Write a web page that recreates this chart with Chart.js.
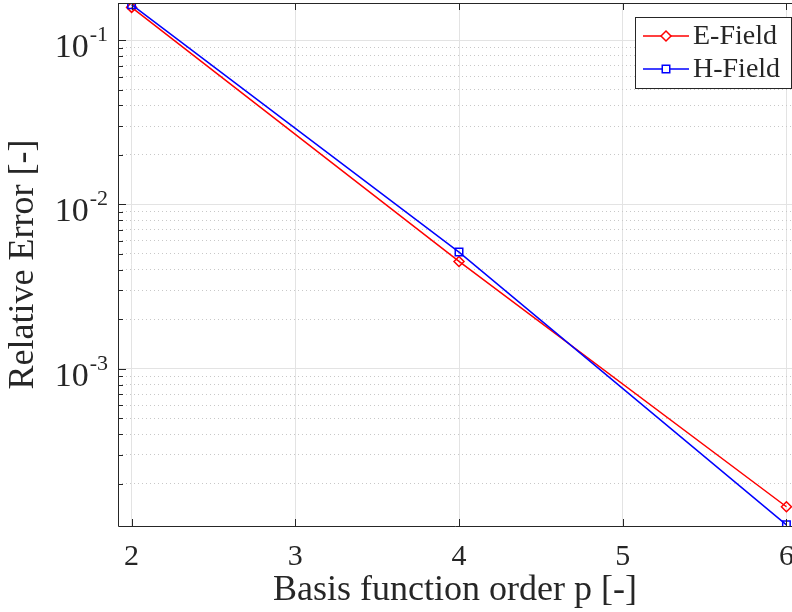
<!DOCTYPE html>
<html>
<head>
<meta charset="utf-8">
<script src="https://cdn.jsdelivr.net/npm/chart.js@4.4.0/dist/chart.umd.min.js"></script>
<style>
  html, body { margin: 0; padding: 0; background: #fff; }
  #wrap { width: 792px; height: 612px; }
</style>
</head>
<body>
<div id="wrap"><canvas id="errChart"></canvas></div>
<script>
// data
var orders = [2, 4, 6];
var eField = [0.158, 0.0045, 0.000145];
var hField = [0.164, 0.00513, 0.0001125];
var xTicks = [2, 3, 4, 5, 6];
var yDecades = [-4, -3, -2, -1];
var xRange = [1.917, 6.034];
var yRange = [1.107e-4, 0.168];

var serif = "'Liberation Serif', 'DejaVu Serif', serif";
var ink = '#262626';

function isDecade(v) {
  var l = Math.log10(v);
  return Math.abs(l - Math.round(l)) < 1e-6;
}

// y ticks: 1..9 x 10^k inside the range
var yTicks = [];
yDecades.forEach(function (k) {
  for (var m = 1; m <= 9; m++) {
    var v = m * Math.pow(10, k);
    if (v >= yRange[0] && v <= yRange[1]) yTicks.push(v);
  }
});

// frame, inward ticks, y labels and legend
var decor = {
  id: 'decor',
  afterDraw: function (chart) {
    var c = chart.ctx, a = chart.chartArea;
    var xs = chart.scales.x, ys = chart.scales.y;
    c.save();
    c.strokeStyle = ink;
    c.lineWidth = 1;
    c.beginPath();
    c.moveTo(a.left + 0.5, a.top + 0.5);
    c.lineTo(a.left + 0.5, a.bottom + 0.5);
    c.lineTo(a.right, a.bottom + 0.5);
    c.moveTo(a.left, a.top + 0.5);
    c.lineTo(a.right, a.top + 0.5);
    xTicks.forEach(function (t) {
      var px = Math.round(xs.getPixelForValue(t)) + 0.5;
      c.moveTo(px, a.bottom); c.lineTo(px, a.bottom - 7);
      c.moveTo(px, a.top); c.lineTo(px, a.top + 7);
    });
    yTicks.forEach(function (t) {
      var py = Math.round(ys.getPixelForValue(t)) + 0.5;
      c.moveTo(a.left, py); c.lineTo(a.left + (isDecade(t) ? 8 : 5), py);
    });
    c.stroke();

    // y tick labels 10^k
    c.fillStyle = ink;
    c.textAlign = 'left';
    c.textBaseline = 'alphabetic';
    yTicks.filter(isDecade).forEach(function (t) {
      var py = ys.getPixelForValue(t);
      var exp = String(Math.round(Math.log10(t)));
      c.font = '34px ' + serif;
      var w1 = c.measureText('10').width;
      c.font = '22px ' + serif;
      var w2 = c.measureText(exp).width;
      var x0 = a.left - 11 - w1 - w2;
      c.font = '34px ' + serif;
      c.fillText('10', x0, py + 17);
      c.font = '22px ' + serif;
      c.fillText(exp, x0 + w1 + 1, py + 1);
    });

    // legend
    var bx = 635, by = 17, bw = 156, bh = 71;
    c.fillStyle = '#fff';
    c.fillRect(bx, by, bw, bh);
    c.strokeStyle = ink;
    c.lineWidth = 1;
    c.strokeRect(bx + 0.5, by + 0.5, bw, bh);
    chart.data.datasets.forEach(function (ds, i) {
      var ly = by + 19 + i * 33;
      c.strokeStyle = ds.borderColor;
      c.lineWidth = 1.5;
      c.beginPath();
      c.moveTo(643, ly); c.lineTo(689, ly);
      c.stroke();
      c.fillStyle = '#fff';
      Chart.helpers.drawPoint(c, {
        pointStyle: ds.pointStyle, radius: ds.pointRadius, rotation: 0,
        borderWidth: 1.5
      }, 666, ly);
      c.fillStyle = ink;
      c.font = '28px ' + serif;
      c.textBaseline = 'middle';
      c.fillText(ds.label, 693, ly + 1);
    });
    c.restore();
  }
};

function points(vals) {
  return orders.map(function (p, i) { return { x: p, y: vals[i] }; });
}

var ctx = document.getElementById('errChart').getContext('2d');
var chart = new Chart(ctx, {
  type: 'line',
  data: {
    datasets: [{
      label: 'E-Field',
      data: points(eField),
      borderColor: '#ff0000',
      backgroundColor: 'rgba(0,0,0,0)',
      pointStyle: 'rectRot',
      pointRadius: 5,
      pointBorderWidth: 1.5,
      borderWidth: 1.5,
      order: 1
    }, {
      label: 'H-Field',
      data: points(hField),
      borderColor: '#0000ff',
      backgroundColor: 'rgba(0,0,0,0)',
      pointStyle: 'rect',
      pointRadius: 5.3,
      pointBorderWidth: 1.5,
      borderWidth: 1.5,
      order: 0
    }]
  },
  plugins: [decor],
  options: {
    responsive: true,
    maintainAspectRatio: false,
    animation: false,
    layout: { autoPadding: false, padding: { top: 3, right: 0, left: 0, bottom: 0 } },
    plugins: { legend: { display: false }, tooltip: { enabled: false } },
    scales: {
      x: {
        type: 'linear',
        min: xRange[0],
        max: xRange[1],
        afterBuildTicks: function (s) { s.ticks = xTicks.map(function (v) { return { value: v }; }); },
        afterFit: function (s) { s.height = 86; s.paddingLeft = 0; s.paddingRight = 0; },
        grid: { color: '#e3e3e3', lineWidth: 1, drawTicks: false },
        border: { display: false },
        ticks: {
          color: ink, padding: 13, autoSkip: false, maxRotation: 0,
          font: { family: serif, size: 30 },
          callback: function (v) { return String(v); }
        },
        title: {
          display: true, text: 'Basis function order p [-]', color: ink,
          font: { family: serif, size: 36 }, padding: { top: 1, bottom: 0 }
        }
      },
      y: {
        type: 'logarithmic',
        min: yRange[0],
        max: yRange[1],
        afterBuildTicks: function (s) { s.ticks = yTicks.map(function (v) { return { value: v, major: isDecade(v) }; }); },
        afterFit: function (s) { s.width = 118; s.paddingTop = 0; s.paddingBottom = 0; },
        grid: {
          drawTicks: false,
          color: function (c) { return c.tick && isDecade(c.tick.value) ? '#e3e3e3' : '#c8c8c8'; },
          lineWidth: 1
        },
        border: {
          display: false,
          dash: function (c) { return c.tick && isDecade(c.tick.value) ? [] : [1, 3]; }
        },
        ticks: { display: false, autoSkip: false },
        title: {
          display: true, text: 'Relative Error [-]', color: ink,
          font: { family: serif, size: 36 }, padding: { top: 2, bottom: 0 }
        }
      }
    }
  }
});
</script>
</body>
</html>
